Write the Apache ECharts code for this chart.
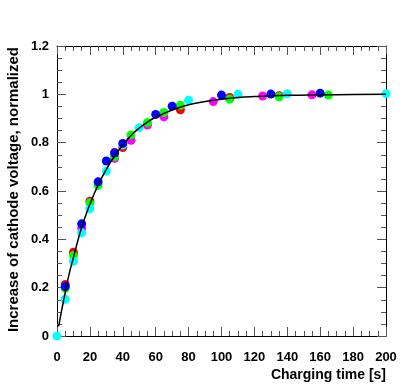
<!DOCTYPE html>
<html>
<head>
    <title>Cathode voltage charging</title>
    <style>
        html, body {
            margin: 0;
            padding: 0;
            background: #fff;
        }

        #chart {
            width: 407px;
            height: 391px;
        }
    </style>
    <script src="https://cdn.jsdelivr.net/npm/echarts@6/dist/echarts.min.js"></script>
</head>
<body>
    <div id="chart"></div>

    <script>
        // measured points, one array pair per colour
        var redT = [5, 10, 20, 35, 40, 75, 105, 135];
        var redV = [0.213, 0.347, 0.558, 0.759, 0.78, 0.936, 0.987, 0.994];

        var magentaT = [10, 15, 35, 45, 55, 65, 95, 125, 155];
        var magentaV = [0.34, 0.445, 0.735, 0.81, 0.873, 0.907, 0.97, 0.993, 0.998];

        var greenT = [5, 10, 20, 25, 35, 45, 55, 65, 75, 105, 135, 165];
        var greenV = [0.197, 0.333, 0.551, 0.623, 0.742, 0.832, 0.883, 0.925, 0.955, 0.98, 0.99, 0.997];

        var cyanT = [0, 5, 10, 15, 20, 30, 40, 50, 80, 110, 140, 200];
        var cyanV = [0, 0.152, 0.309, 0.427, 0.526, 0.682, 0.79, 0.862, 0.976, 1.0, 1.002, 1.002];

        var blueT = [5, 15, 25, 30, 35, 40, 60, 70, 100, 130, 160];
        var blueV = [0.205, 0.464, 0.638, 0.724, 0.757, 0.797, 0.917, 0.951, 0.997, 1.001, 1.005];

        // fitted curve
        var fitT = [1, 2.5, 5, 7.5, 10, 12.5, 15, 17.5, 20, 25, 30, 35, 40, 45, 50, 55, 60, 70, 80, 90, 100, 110, 120, 140, 160, 180, 200];
        var fitV = [0.04, 0.095, 0.18, 0.26, 0.325, 0.39, 0.45, 0.5, 0.545, 0.625, 0.69, 0.745, 0.79, 0.83, 0.86, 0.885, 0.905, 0.935, 0.957, 0.97, 0.98, 0.987, 0.991, 0.996, 0.998, 0.999, 1.0];

        var xTicks = [0, 20, 40, 60, 80, 100, 120, 140, 160, 180, 200];
        var yTicks = [0, 0.2, 0.4, 0.6, 0.8, 1, 1.2];

        var font = '"Liberation Sans", Arial, Helvetica, sans-serif';

        function pairs(t, v) {
            return t.map(function (x, i) {
                return [x, v[i]];
            });
        }

        function dots(name, color, t, v) {
            return {
                name: name,
                type: 'scatter',
                data: pairs(t, v),
                symbol: 'circle',
                symbolSize: 9,
                clip: false,
                itemStyle: { color: color, opacity: 1 },
                z: 3
            };
        }

        function frameAxis(pos, isX) {
            var ticks = isX ? xTicks : yTicks;
            return {
                type: 'value',
                position: pos,
                min: ticks[0],
                max: ticks[ticks.length - 1],
                interval: ticks[1] - ticks[0],
                axisLine: { show: true, onZero: false, lineStyle: { color: '#000', width: 1 } },
                axisTick: { show: true, inside: true, length: 9, lineStyle: { color: '#555' } },
                minorTick: { show: true, splitNumber: 4, length: 5, lineStyle: { color: '#555' } },
                axisLabel: { show: false },
                splitLine: { show: false }
            };
        }

        var chart = echarts.init(document.getElementById('chart'));

        var xMain = frameAxis('bottom', true);
        xMain.axisLabel = {
            show: true,
            margin: 10,
            fontFamily: font,
            fontWeight: 'bold',
            fontSize: 13,
            color: '#000'
        };
        var yMain = frameAxis('left', false);
        yMain.axisLabel = {
            show: true,
            margin: 8,
            fontFamily: font,
            fontWeight: 'bold',
            fontSize: 13,
            color: '#000'
        };

        var option = {
            animation: false,
            grid: { left: 57, right: 21, top: 46, bottom: 55 },
            xAxis: [xMain, frameAxis('top', true)],
            yAxis: [yMain, frameAxis('right', false)],
            graphic: [
                {
                    type: 'text',
                    right: 21,
                    top: 363,
                    style: {
                        text: 'Charging time [s]',
                        fontFamily: font,
                        fontWeight: 'bold',
                        fontSize: 14,
                        fill: '#000'
                    }
                },
                {
                    type: 'text',
                    x: 14,
                    y: 47,
                    rotation: Math.PI / 2,
                    style: {
                        text: 'Increase of cathode voltage, normalized',
                        fontFamily: font,
                        fontWeight: 'bold',
                        fontSize: 15,
                        fill: '#000',
                        align: 'right',
                        verticalAlign: 'middle'
                    }
                }
            ],
            series: [
                dots('magenta', '#ff00ff', magentaT, magentaV),
                dots('red', '#ff0000', redT, redV),
                dots('green', '#00ff00', greenT, greenV),
                dots('cyan', '#00ffff', cyanT, cyanV),
                dots('blue', '#0000ff', blueT, blueV),
                {
                    name: 'fit',
                    type: 'line',
                    data: pairs(fitT, fitV),
                    smooth: true,
                    showSymbol: false,
                    lineStyle: { color: '#000', width: 1.5 },
                    z: 5
                }
            ]
        };

        chart.setOption(option);
    </script>
</body>
</html>
